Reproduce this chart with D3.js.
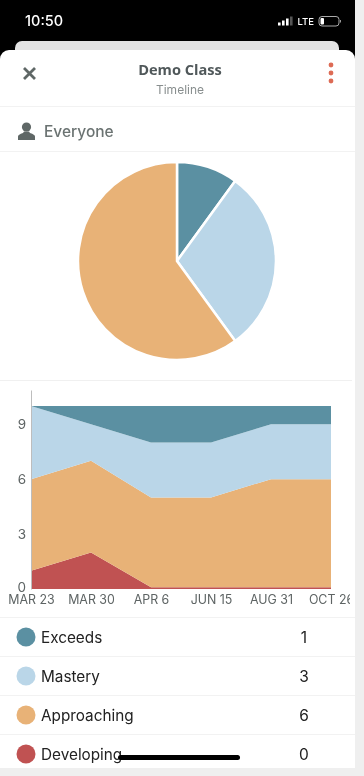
<!DOCTYPE html>
<html><head><meta charset="utf-8">
<script src="https://cdn.jsdelivr.net/npm/d3@7"></script>
<style>html,body{margin:0;padding:0;background:#efefef;overflow:hidden}svg{display:block;filter:blur(.35px)}</style>
</head><body><svg id="c" width="364" height="776"></svg>
<script>
const dates=["MAR 23","MAR 30","APR 6","JUN 15","AUG 31","OCT 26"];
const seriesNames=["Developing","Approaching","Mastery","Exceeds"];
const developing=[1,2,0.1,0.1,0.1,0.1];
const approaching=[5,5,4.9,4.9,5.9,5.9];
const mastery=[4,2,3,3,3,3];
const exceeds=[0,1,2,2,1,1];
const legendNames=["Exceeds","Mastery","Approaching","Developing"];
const legendValues=[1,3,6,0];
const pieValues=[1,3,6];
const yTicks=[0,3,6,9];
const colors={Exceeds:"#5b90a2",Mastery:"#bad6e8",Approaching:"#e8b277",Developing:"#c05252"};

const svg=d3.select("#c");
const ink="#5f6766";
svg.append("rect").attr("width",355).attr("height",60).attr("fill","#000");
svg.append("rect").attr("x",15).attr("y",41).attr("width",324).attr("height",30).attr("rx",7).attr("fill","#e3e3e3");
svg.append("rect").attr("x",0).attr("y",50).attr("width",355).attr("height",718).attr("rx",9).attr("fill","#fff");
svg.append("rect").attr("x",0).attr("y",60).attr("width",355).attr("height",708).attr("fill","#fff");
const T=(x,y,s,size,fill,anchor,weight,fam)=>svg.append("text").attr("x",x).attr("y",y).attr("dy","0.35em").attr("font-family",fam||"Inter, sans-serif").attr("font-size",size).attr("fill",fill).attr("text-anchor",anchor||"start").attr("font-weight",weight||400).text(s);

// status bar
T(25,21,"10:50",14.5,"#fff","start",500);
[[278,3],[282,5],[286,7],[290,9]].forEach(([x,h],i)=>svg.append("rect").attr("x",x).attr("y",25.5-h).attr("width",2.6).attr("height",h).attr("fill",i==3?"#555":"#fff"));
T(297.5,21.5,"LTE",9.5,"#fff","start",500);
svg.append("rect").attr("x",319).attr("y",16.5).attr("width",20).attr("height",9.5).attr("rx",3).attr("fill","none").attr("stroke","#aaa");
svg.append("rect").attr("x",320.5).attr("y",18).attr("width",3.5).attr("height",6.5).attr("rx",1).attr("fill","#fff");
svg.append("rect").attr("x",340).attr("y",20).attr("width",1).attr("height",2.5).attr("fill","#999");

// header
svg.append("path").attr("d","M24 68L35 79M35 68L24 79").attr("stroke",ink).attr("stroke-width",2.8).attr("fill","none");
T(180,69.5,"Demo Class",14.6,"#50585a","middle",700,"'Open Sans', sans-serif");
T(180,90,"Timeline",12,"#888e8e","middle",400);
[65,73,81].forEach(y=>svg.append("circle").attr("cx",331).attr("cy",y).attr("r",2.4).attr("fill","#dd6b55"));
// dividers
[106.5,151.5,617.5,656.5,695.5,734.5].forEach(y=>svg.append("line").attr("x1",0).attr("x2",355).attr("y1",y).attr("y2",y).attr("stroke","#f2f2f2"));
svg.append("path").attr("d","M0 380.5H352").attr("stroke","#f0f0f0");
// person
svg.append("circle").attr("cx",26.5).attr("cy",127).attr("r",4.6).attr("fill",ink);
svg.append("path").attr("d","M18 140v-3.500q0-2 5-3.500l1-1.500h5l1 1.500q5 1.500 5 3.500v3.500z").attr("fill",ink);
T(44,131.5,"Everyone",15.5,"#6b7372","start",500);

// pie
const pieG=svg.append("g").attr("transform","translate(177,261)");
const pie=d3.pie().sort(null)(pieValues);
const arc=d3.arc().innerRadius(0).outerRadius(99);
pieG.selectAll("path").data(pie).join("path").attr("d",arc)
  .attr("fill",(d,i)=>colors[legendNames[i]]).attr("stroke","#fff").attr("stroke-width",2.5);

// area chart
const x=d3.scalePoint().domain(dates).range([31,331]);
const y=d3.scaleLinear().domain([0,10.87]).range([589,390]);
const rows=dates.map((d,i)=>({date:d,Developing:developing[i],Approaching:approaching[i],Mastery:mastery[i],Exceeds:exceeds[i]}));
const stack=d3.stack().keys(seriesNames)(rows);
const area=d3.area().x(d=>x(d.data.date)).y0(d=>y(d[0])).y1(d=>y(d[1]));
svg.append("g").selectAll("path").data(stack).join("path").attr("d",area).attr("fill",d=>colors[d.key]);

svg.append("clipPath").attr("id","clipx").append("rect").attr("x",0).attr("y",-5).attr("width",350).attr("height",30);
const ax=svg.append("g").attr("clip-path","url(#clipx)").attr("transform","translate(0,589)").call(d3.axisBottom(x).tickSize(0).tickPadding(6.5));
ax.select(".domain").remove();
ax.selectAll("text").attr("font-family","Inter, sans-serif").attr("font-size",12.4).attr("fill","#5e6464");
const ay=svg.append("g").attr("transform","translate(31,0)").call(d3.axisLeft(y).tickValues(yTicks).tickSize(0).tickPadding(5));
ay.select(".domain").attr("stroke","#bdbdbd");
ay.selectAll("text").attr("font-family","Inter, sans-serif").attr("font-size",13.5).attr("fill","#5e6464")
  .attr("transform",d=>d===0?"translate(0,-2)":null);

// legend
const rowY=d3.scalePoint().domain(legendNames).range([637.5,754.5]);
const lg=svg.append("g").selectAll("g").data(legendNames).join("g").attr("transform",d=>`translate(0,${rowY(d)})`);
lg.append("circle").attr("cx",26).attr("cy",-0.5).attr("r",9.5).attr("fill",d=>colors[d]);
lg.append("text").attr("x",41).attr("dy","0.35em").attr("font-family","Inter, sans-serif").attr("font-size",15.3).attr("fill","#222").text(d=>d);
lg.append("text").attr("x",304).attr("text-anchor","middle").attr("dy","0.35em").attr("font-family","Inter, sans-serif").attr("font-size",15.5).attr("fill","#222").text((d,i)=>legendValues[i]);

// home indicator
svg.append("rect").attr("x",118).attr("y",755).attr("width",122).attr("height",5).attr("rx",2.5).attr("fill","#000");
</script></body></html>
